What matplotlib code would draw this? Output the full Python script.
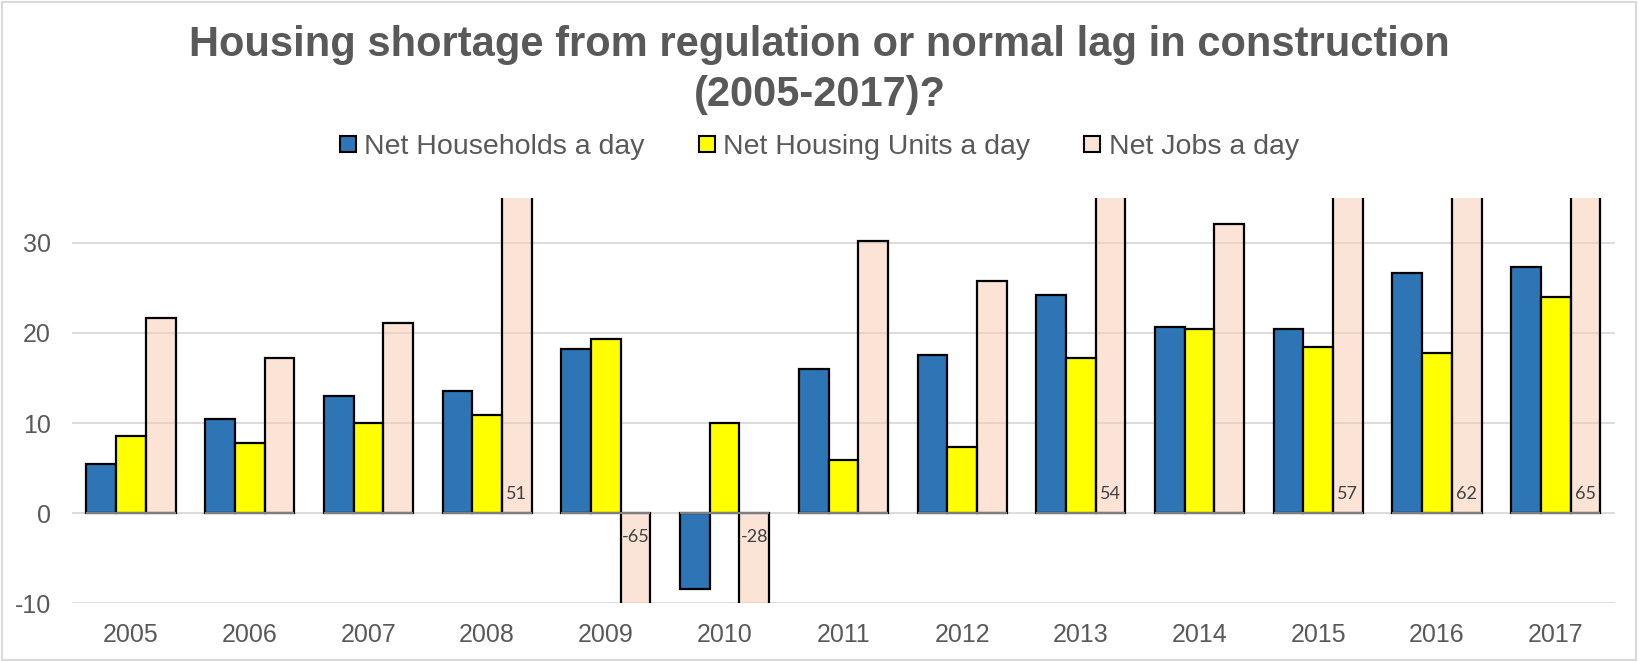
import matplotlib
matplotlib.use('Agg')
import matplotlib.pyplot as plt
import numpy as np
from matplotlib.lines import Line2D
from matplotlib.patches import Rectangle

years = ['2005', '2006', '2007', '2008', '2009', '2010', '2011',
         '2012', '2013', '2014', '2015', '2016', '2017']
households = [5.4, 10.5, 13.0, 13.6, 18.2, -8.4, 16.0, 17.6, 24.2, 20.6, 20.4, 26.6, 27.3]
housing_units = [8.6, 7.8, 10.0, 10.9, 19.3, 10.0, 5.9, 7.3, 17.2, 20.4, 18.4, 17.8, 24.0]
jobs = [21.6, 17.2, 21.1, 51, -65, -28, 30.2, 25.8, 54, 32.1, 57, 62, 65]

series_names = ['Net Households a day', 'Net Housing Units a day', 'Net Jobs a day']
yticks = [-10, 0, 10, 20, 30]
ymin, ymax = -10, 35

plt.rcParams['font.family'] = ['Liberation Sans', 'DejaVu Sans']
plt.rcParams['axes.unicode_minus'] = False
text_col = '#595959'
colors = ['#2E75B6', '#FFFF00', (248/255, 203/255, 173/255, 0.5)]

fig = plt.figure(figsize=(16.39, 6.61), dpi=100)
ax = fig.add_axes([0.0437, 0.0873, 0.9417, 0.6136])

x = np.arange(len(years))
w = 0.25
for k, vals in enumerate([households, housing_units, jobs]):
    ax.bar(x + (k - 1) * w, vals, width=w, color=colors[k], edgecolor='black',
           linewidth=1.6, zorder=3)

# labels for bars that run past the axis
for i, v in enumerate(jobs):
    if v > ymax or v < ymin:
        ypos = 2.1 if v > 0 else -2.6
        ax.text(x[i] + w, ypos, f'{v:.0f}', ha='center', va='center',
                fontsize=13, color='#404040', family=['Lato', 'DejaVu Sans'], zorder=5)

ax.set_xlim(-0.5, len(years) - 0.5)
ax.set_ylim(ymin, ymax)
ax.set_yticks(yticks)
ax.set_xticks(x)
ax.set_xticklabels(years)
ax.tick_params(axis='both', length=0, labelsize=18, labelcolor=text_col)
ax.tick_params(axis='y', pad=15)
ax.tick_params(axis='x', pad=14)
ax.yaxis.grid(True, color='#D9D9D9', linewidth=1.3, zorder=0)
ax.set_axisbelow(True)
for s in ax.spines.values():
    s.set_visible(False)
# gray axis line under each group
for i in x:
    ax.plot([i - 1.5 * w, i + 1.5 * w], [0, 0], color='#7F7F7F', lw=1.5, zorder=4,
            solid_capstyle='butt')

fig.text(0.5, 1 - 56 / 661, 'Housing shortage from regulation or normal lag in construction',
         ha='center', va='baseline', fontsize=30, fontweight='bold', color=text_col)
fig.text(0.5, 1 - 106 / 661, '(2005-2017)?',
         ha='center', va='baseline', fontsize=30, fontweight='bold', color=text_col)

handles = [Line2D([], [], marker='s', linestyle='none', markersize=11,
                  markerfacecolor=c, markeredgecolor='black', markeredgewidth=1.5)
           for c in colors]
leg = fig.legend(handles, series_names, loc='center', bbox_to_anchor=(0.5, 1 - 147 / 661),
                 ncol=3, frameon=False, fontsize=20.5, handlelength=0.55,
                 handletextpad=0.3, columnspacing=1.9, borderpad=0)
for t in leg.get_texts():
    t.set_color(text_col)

fig.patches.append(Rectangle((0.001, 0.002), 0.997, 0.995, transform=fig.transFigure,
                             fill=False, edgecolor='#D9D9D9', linewidth=1.5))

fig.savefig('out.png', dpi=100)
